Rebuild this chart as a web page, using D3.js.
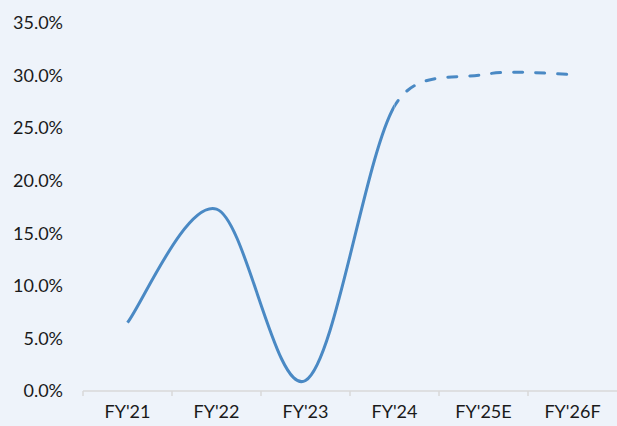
<!DOCTYPE html>
<html>
<head>
<meta charset="utf-8">
<script src="https://cdn.jsdelivr.net/npm/d3@7"></script>
<style>
  html, body { margin: 0; padding: 0; background: #eef3fa; }
  svg { display: block; }
  .tick-label { font-family: Lato, "Open Sans", sans-serif; font-size: 18px; fill: #1a1a1a; }
</style>
</head>
<body>
<div id="chart"></div>
<script>
// data
var categories = ["FY'21", "FY'22", "FY'23", "FY'24", "FY'25E", "FY'26F"];
var growth = [6.5, 17.3, 1.0, 27.1, 30.1, 30.1];
var yTicks = [0, 5, 10, 15, 20, 25, 30, 35];
var lastActual = "FY'24"; // after this point the line is dashed

var width = 617, height = 426;

var svg = d3.select("#chart").append("svg")
    .attr("width", width)
    .attr("height", height);

var x = d3.scaleBand()
    .domain(categories)
    .range([83, 617])
    .paddingInner(0);

var y = d3.scaleLinear()
    .domain([0, 35])
    .range([391, 23]);

// x axis line + ticks between categories
svg.append("line")
    .attr("x1", x.range()[0]).attr("x2", x.range()[1])
    .attr("y1", y(0)).attr("y2", y(0))
    .attr("stroke", "#d9d9d9").attr("stroke-width", 1.5);

svg.selectAll(".xtick")
    .data(categories)
    .enter().append("line")
    .attr("x1", function(d) { return x(d); })
    .attr("x2", function(d) { return x(d); })
    .attr("y1", y(0)).attr("y2", y(0) + 5)
    .attr("stroke", "#d9d9d9").attr("stroke-width", 1.5);

svg.selectAll(".xlab")
    .data(categories)
    .enter().append("text")
    .attr("class", "tick-label")
    .attr("x", function(d) { return x(d) + x.bandwidth() / 2; })
    .attr("y", 418)
    .attr("text-anchor", "middle")
    .text(function(d) { return d; });

// y labels
var fmt = function(v) { return v.toFixed(1) + "%"; };
svg.selectAll(".ylab")
    .data(yTicks)
    .enter().append("text")
    .attr("class", "tick-label")
    .attr("x", 63)
    .attr("y", function(d) { return y(d); })
    .attr("dy", "0.35em")
    .attr("text-anchor", "end")
    .text(fmt);

// excel-ish smoothing: catmull-rom arms, shortened when longer than ~0.45 of the segment
function smoothPath(p) {
    var path = d3.path(), n = p.length, k = 0.45;
    function dist(a, b) { return Math.hypot(b[0] - a[0], b[1] - a[1]); }
    function arm(a, b, seg) {
        var vx = (b[0] - a[0]) / 6, vy = (b[1] - a[1]) / 6, l = Math.hypot(vx, vy);
        var s = l > k * seg ? k * seg / l : 1;
        return [vx * s, vy * s];
    }
    path.moveTo(p[0][0], p[0][1]);
    for (var i = 0; i < n - 1; i++) {
        var p0 = p[Math.max(i - 1, 0)], p1 = p[i], p2 = p[i + 1], p3 = p[Math.min(i + 2, n - 1)];
        var seg = dist(p1, p2);
        var a1 = arm(p0, p2, seg), a2 = arm(p1, p3, seg);
        path.bezierCurveTo(p1[0] + a1[0], p1[1] + a1[1], p2[0] - a2[0], p2[1] - a2[1], p2[0], p2[1]);
    }
    return path.toString();
}

var pts = categories.map(function(c, i) { return [x(c) + x.bandwidth() / 2, y(growth[i])]; });
var splitX = x(lastActual) + x.bandwidth() / 2;

var defs = svg.append("defs");
defs.append("clipPath").attr("id", "clipSolid")
    .append("rect").attr("x", 0).attr("y", 0).attr("width", splitX).attr("height", height);
defs.append("clipPath").attr("id", "clipDash")
    .append("rect").attr("x", splitX).attr("y", 0).attr("width", width - splitX).attr("height", height);

svg.append("path")
    .attr("d", smoothPath(pts))
    .attr("fill", "none")
    .attr("stroke", "#4a89c4")
    .attr("stroke-width", 3)
    .attr("clip-path", "url(#clipSolid)");

svg.append("path")
    .attr("d", smoothPath(pts))
    .attr("fill", "none")
    .attr("stroke", "#4a89c4")
    .attr("stroke-width", 3)
    .attr("stroke-linecap", "round")
    .attr("stroke-dasharray", "9,13")
    .attr("clip-path", "url(#clipDash)");
</script>
</body>
</html>
